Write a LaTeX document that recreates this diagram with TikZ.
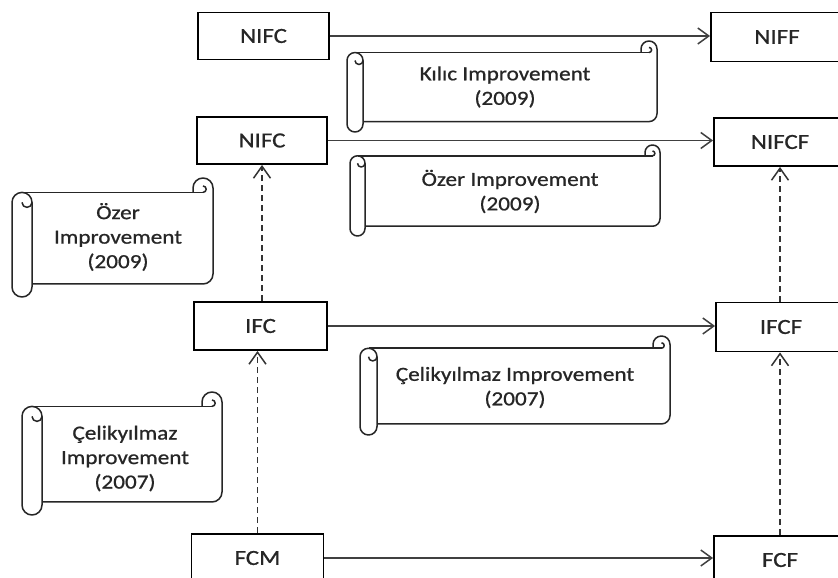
\documentclass[tikz,border=0pt]{standalone}
\usepackage{fontspec}
\setmainfont{Carlito}[FakeStretch=1.16,FakeBold=0.8]
\usetikzlibrary{arrows.meta}
\newcommand{\scrollshape}[5]{%
\pgfmathsetmacro\scL{#1}\pgfmathsetmacro\scR{#3}%
\pgfmathsetmacro\scT{578-#2}\pgfmathsetmacro\scB{578-#4}%
\pgfmathsetmacro\scW{#5}\pgfmathsetmacro\scH{#5/2}%
\pgfmathsetmacro\scBT{\scT-0.72*#5}\pgfmathsetmacro\scBB{\scB+0.65*#5}%
\pgfmathsetmacro\scQ{0.16*#5}\pgfmathsetmacro\scQQ{#5/4}%
\draw[scrl] (\scL+\scH,\scBT) -- (\scR-\scH,\scBT);
\draw[scrl] (\scR-\scW,\scBT) -- (\scR-\scW,\scT-\scH) arc (180:0:\scH) -- (\scR,\scBB+\scH) arc (0:-90:\scH) -- (\scL+\scW,\scBB);
\draw[scrl] (\scR-\scH,\scBT) arc (-90:90:\scQ);
\draw[scrl] (\scL+\scW,\scBT-\scH) arc (0:180:\scH) -- (\scL,\scB+\scH) arc (180:360:\scH) -- cycle;
\draw[scrl] (\scL+\scH,\scBT-\scH) arc (180:360:\scQQ);
}
\begin{document}
\begin{tikzpicture}[x=1pt,y=1pt,
  procbox/.style={draw=black, line width=1.9pt, fill=white, minimum width=#1, minimum height=48pt, inner sep=0pt, font=\fontsize{21.5}{24}\selectfont, text=black!85},
  procbox/.default=132pt,
  scrl/.style={draw=black!85, line width=1.5pt, line join=round},
  scrolltxt/.style={align=center, inner sep=0pt, font=\fontsize{20}{24.5}\selectfont, text=black!85},
  arr/.style={draw=black!75, line width=1.5pt, -{Straight Barb[length=11pt,width=16pt,line width=1.5pt]}},
  dasharr/.style={draw=black!80, line width=1.5pt, dash pattern=on 6pt off 4pt, -{Straight Barb[length=12pt,width=17pt,line width=1.5pt]}}]
\useasboundingbox (0,0) rectangle (838,578);
\clip (0,0) rectangle (838,578);
\fill[white] (0,0) rectangle (838,578);

% boxes
\node[procbox=131pt, minimum height=47pt] (nifc1) at (263.5,542) {NIFC};
\node[procbox=132pt, minimum height=49pt] (niff) at (777,541) {NIFF};
\node[procbox=130pt, minimum height=47pt] (nifc2) at (262,437.5) {NIFC};
\node[procbox=132pt] (nifcf) at (780,436) {NIFCF};
\node[procbox=133pt] (ifc) at (260.5,252) {IFC};
\node[procbox=130pt, minimum height=49pt] (ifcf) at (781,251) {IFCF};
\node[procbox=132pt] (fcm) at (257.5,20) {FCM};
\node[procbox=132pt] (fcf) at (780,18) {FCF};

% horizontal connectors
\draw[arr] (nifc1.east) -- (nifc1.east -| niff.west);
\draw[arr] (nifc2.east) -- (nifc2.east -| nifcf.west);
\draw[arr] (ifc.east) -- (ifc.east -| ifcf.west);
\draw[arr] (fcm.east) -- (fcm.east -| fcf.west);

% vertical dashed connectors
\draw[dasharr] (fcm.north) -- (fcm.north |- ifc.south);
\draw[dasharr] (nifc2.south |- ifc.north) -- (nifc2.south);
\draw[dasharr] (fcf.north) -- (fcf.north |- ifcf.south);
\draw[dasharr] (nifcf.south |- ifcf.north) -- (nifcf.south);

% scrolls
\scrollshape{347}{41}{657}{132}{16}
\scrollshape{12}{178}{213}{297}{20}
\scrollshape{350}{145}{660}{236}{15}
\scrollshape{22}{392}{222}{515}{20}
\scrollshape{360}{336}{670}{435}{17}

\node[scrolltxt] (s1) at (505,491) {Kılıc Improvement\\(2009)};
\node[scrolltxt] (s2) at (118,341) {Özer\\Improvement\\(2009)};
\node[scrolltxt] (s3) at (510,386.5) {Özer Improvement\\(2009)};
\node[scrolltxt] (s4) at (125,119.5) {Çelikyılmaz\\Improvement\\(2007)};
\node[scrolltxt] (s5) at (515,190.5) {Çelikyılmaz Improvement\\(2007)};
\end{tikzpicture}
\end{document}
